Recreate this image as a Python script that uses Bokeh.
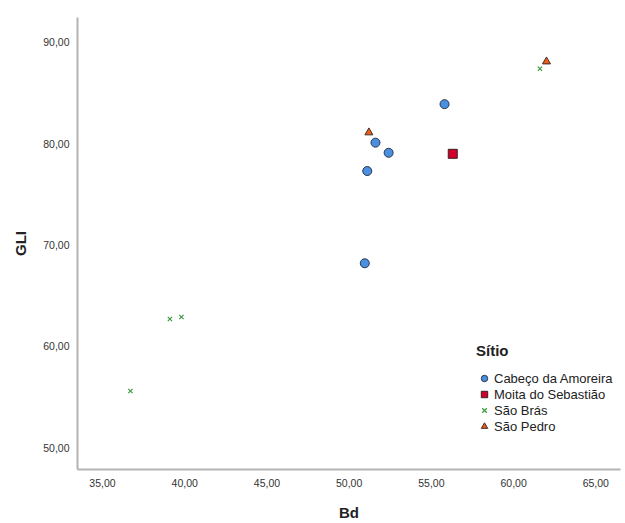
from bokeh.plotting import figure
from bokeh.models import Legend, LegendItem, CustomJSTickFormatter, FixedTicker, Range1d
from bokeh.embed import file_html
from bokeh.resources import INLINE

# Data
amoreira_bd = [55.8, 51.6, 52.4, 51.1, 50.95]
amoreira_gli = [83.9, 80.1, 79.1, 77.3, 68.2]
moita_bd = [56.3]
moita_gli = [79.0]
bras_bd = [61.6, 39.1, 39.8, 36.7]
bras_gli = [87.4, 62.7, 62.9, 55.6]
pedro_bd = [62.0, 51.2]
pedro_gli = [88.1, 81.1]

x_ticks = [35, 40, 45, 50, 55, 60, 65]
y_ticks = [50, 60, 70, 80, 90]

p = figure(width=625, height=523, output_backend="svg", toolbar_location=None,
           x_range=Range1d(33.48, 66.5), y_range=Range1d(47.85, 92.45),
           min_border_left=77, min_border_right=5, min_border_top=17, min_border_bottom=51)
p.outline_line_color = None
p.xgrid.visible = False
p.ygrid.visible = False
p.background_fill_color = "white"
p.border_fill_color = "white"

fmt = CustomJSTickFormatter(code="return tick.toFixed(2).replace('.', ',');")
for ax, ticks, label in ((p.xaxis[0], x_ticks, "Bd"), (p.yaxis[0], y_ticks, "GLI")):
    ax.ticker = FixedTicker(ticks=ticks)
    ax.formatter = fmt
    ax.axis_label = label
    ax.axis_label_text_font = "Liberation Sans"
    ax.axis_label_text_font_style = "bold"
    ax.axis_label_text_font_size = "15px"
    ax.axis_label_text_color = "#222222"
    ax.major_label_text_font = "Liberation Sans"
    ax.major_label_text_font_size = "10.5px"
    ax.major_label_text_color = "#333333"
    ax.axis_line_color = "#b4b4b4"
    ax.axis_line_width = 2
    ax.major_tick_line_color = None
    ax.minor_tick_line_color = None
    ax.major_tick_out = 0
    ax.major_tick_in = 0
p.yaxis[0].major_label_standoff = 8
p.xaxis[0].major_label_standoff = 9
p.yaxis[0].axis_label_standoff = 11
p.xaxis[0].axis_label_standoff = 14

r1 = p.scatter(amoreira_bd, amoreira_gli, marker="circle", size=9,
               fill_color="#4a8fe0", line_color="#2a3550", line_width=1)
r2 = p.scatter(moita_bd, moita_gli, marker="square", size=9,
               fill_color="#d2002c", line_color="#3a2020", line_width=1)
r3 = p.scatter(bras_bd, bras_gli, marker="x", size=6,
               line_color="#3a9a3a", line_width=1.2)
r4 = p.scatter(pedro_bd, pedro_gli, marker="triangle", size=8,
               fill_color="#e8601c", line_color="#4a2a20", line_width=1)

legend = Legend(items=[
    LegendItem(label="Cabeço da Amoreira", renderers=[r1]),
    LegendItem(label="Moita do Sebastião", renderers=[r2]),
    LegendItem(label="São Brás", renderers=[r3]),
    LegendItem(label="São Pedro", renderers=[r4]),
], location=(399, 35), title="Sítio")
legend.title_text_font = "Liberation Sans"
legend.title_text_font_style = "bold"
legend.title_text_font_size = "15px"
legend.title_text_color = "#222222"
legend.title_standoff = 11
legend.label_text_font = "Liberation Sans"
legend.label_text_font_size = "13px"
legend.label_text_color = "#222222"
legend.glyph_width = 16
legend.glyph_height = 16
legend.label_height = 16
legend.label_standoff = 2
legend.spacing = 0
legend.padding = 0
legend.margin = 0
legend.border_line_color = None
legend.background_fill_alpha = 0
p.add_layout(legend)

open("out.html", "w").write(file_html(p, INLINE))
